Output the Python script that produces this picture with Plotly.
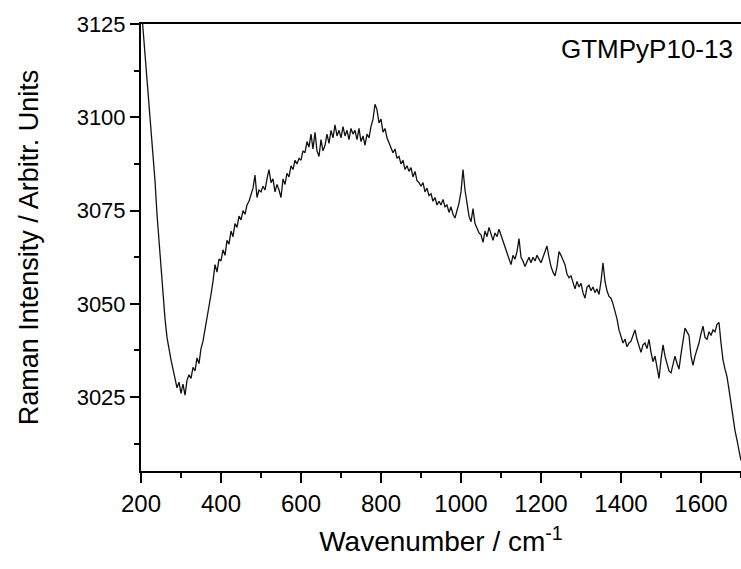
import plotly.graph_objects as go

# Raman spectrum of GTMPyP10-13, sampled every 5 cm-1 from 200 to 1700 cm-1
wn_start = 200
wn_step = 5
intensity = [
    3130.5, 3124, 3116.5, 3110, 3104, 3097, 3090, 3083, 3074, 3066.5,      # 200-245
    3060, 3052, 3046, 3041, 3037.5, 3035, 3032.5, 3030, 3027.5, 3029,      # 250-295
    3026, 3028.5, 3025.5, 3029.5, 3031, 3030, 3033, 3032, 3035.5, 3034,    # 300-345
    3038, 3040, 3043, 3045.5, 3049, 3052.5, 3056, 3060.5, 3058.5, 3062,    # 350-395
    3061.5, 3064.5, 3063, 3067, 3066, 3069.5, 3068, 3071.5, 3070.5, 3073.5,  # 400-445
    3072.5, 3075, 3074, 3076.5, 3077.5, 3079, 3081, 3084.5, 3078.5, 3080.5,  # 450-495
    3080, 3081.5, 3080.5, 3083.5, 3086, 3082.5, 3083.5, 3080, 3082, 3080.5,  # 500-545
    3078.5, 3083.5, 3082, 3085, 3084, 3087, 3086, 3088.5, 3087.5, 3089,    # 550-595
    3088.5, 3091, 3090.5, 3093.5, 3092, 3095.5, 3091.5, 3096, 3091, 3089.5,  # 600-645
    3094, 3091, 3092.5, 3095.5, 3093, 3096.5, 3094.5, 3098, 3095, 3096.5,  # 650-695
    3094.5, 3097.5, 3095, 3096.5, 3094, 3097, 3095.5, 3096.5, 3094, 3097,  # 700-745
    3093.5, 3095, 3092.5, 3095.5, 3094.5, 3097.5, 3099.5, 3103.5, 3102, 3098.5,  # 750-795
    3099.5, 3096, 3097, 3094.5, 3093, 3092, 3090.5, 3091.5, 3089, 3089.5,  # 800-845
    3087.5, 3088.5, 3086, 3087, 3085.5, 3086.5, 3084, 3085.5, 3083, 3082.5,  # 850-895
    3081.5, 3082.5, 3080, 3081, 3079, 3079.5, 3077.5, 3078.5, 3076.5, 3077.5,  # 900-945
    3076.5, 3078, 3076, 3076.5, 3074.5, 3076, 3074, 3073, 3075, 3077,      # 950-995
    3080, 3086, 3080.5, 3076.5, 3073.5, 3072, 3075.5, 3071.5, 3070, 3069,  # 1000-1045
    3068.5, 3066.5, 3069.5, 3068, 3070.5, 3068.5, 3067, 3069, 3068, 3070,  # 1050-1095
    3068.5, 3066.5, 3065, 3063.5, 3062.5, 3060.5, 3063, 3062, 3064, 3067.5,  # 1100-1145
    3062.5, 3061.5, 3060, 3061.5, 3062.5, 3061, 3062.5, 3061.5, 3063, 3062,  # 1150-1195
    3061, 3062.5, 3064, 3065.5, 3062.5, 3060, 3058.5, 3057.5, 3060, 3064,  # 1200-1245
    3063, 3061.5, 3060.5, 3058, 3057, 3057.5, 3055.5, 3054, 3056, 3054.5,  # 1250-1295
    3055.5, 3053, 3051.5, 3054.5, 3055, 3053.5, 3054.5, 3053, 3054, 3052.5,  # 1300-1345
    3056, 3061, 3056, 3053.5, 3052, 3051.5, 3050, 3048, 3046, 3043,        # 1350-1395
    3041.5, 3039.5, 3040.5, 3038.5, 3039.5, 3040, 3041.5, 3043, 3040.5, 3038.5,  # 1400-1445
    3037, 3039, 3039.5, 3038, 3040.5, 3037, 3034.5, 3036, 3032.5, 3030,    # 1450-1495
    3035, 3039, 3036, 3034, 3032, 3031.5, 3034, 3036, 3034, 3032.5,        # 1500-1545
    3036.5, 3040, 3043.5, 3042.5, 3041.5, 3036, 3033.5, 3036, 3037.5, 3039.5,  # 1550-1595
    3042, 3044, 3041, 3040.5, 3042.5, 3041.5, 3043, 3042.5, 3044.5, 3045,  # 1600-1645
    3039.5, 3035, 3032.5, 3030.5, 3027, 3023, 3019, 3016, 3013.5, 3011,    # 1650-1695
    3008,                                                                  # 1700
]
wavenumber = [wn_start + wn_step * i for i in range(len(intensity))]

x_ticks = [200, 400, 600, 800, 1000, 1200, 1400, 1600]
y_ticks = [3025, 3050, 3075, 3100, 3125]
sample_label = "GTMPyP10-13"

FONT = "Liberation Sans, Arial, sans-serif"

fig = go.Figure(
    go.Scatter(
        x=wavenumber,
        y=intensity,
        mode="lines",
        line=dict(color="#111111", width=1.3),
        showlegend=False,
    )
)

fig.update_layout(
    width=741,
    height=569,
    margin=dict(l=141, r=0, t=24, b=98),
    paper_bgcolor="white",
    plot_bgcolor="white",
    font=dict(family=FONT, color="black"),
    annotations=[
        dict(
            text=sample_label,
            xref="paper", yref="paper",
            x=0.99, y=0.945,
            xanchor="right", yanchor="middle",
            showarrow=False,
            font=dict(family=FONT, size=26, color="black"),
        )
    ],
)

fig.update_xaxes(
    range=[200, 1700],
    tickvals=x_ticks,
    ticks="outside",
    ticklen=10,
    tickwidth=1.5,
    tickcolor="black",
    showline=True,
    linecolor="black",
    linewidth=2,
    mirror=True,
    showgrid=False,
    zeroline=False,
    tickfont=dict(family=FONT, size=24),
    minor=dict(dtick=100, ticks="outside", ticklen=5, tickwidth=1.5, tickcolor="black", showgrid=False),
    title=dict(text="Wavenumber / cm<sup>-1</sup>", font=dict(family=FONT, size=28), standoff=16),
)

fig.update_yaxes(
    range=[3005.2, 3125],
    tickvals=y_ticks,
    ticks="outside",
    ticklen=9,
    tickwidth=1.5,
    tickcolor="black",
    showline=True,
    linecolor="black",
    linewidth=2,
    mirror=False,
    showgrid=False,
    zeroline=False,
    tickfont=dict(family=FONT, size=22),
    minor=dict(dtick=12.5, ticks="outside", ticklen=5, tickwidth=1.5, tickcolor="black", showgrid=False),
    title=dict(text="Raman Intensity / Arbitr. Units", font=dict(family=FONT, size=27), standoff=30),
)

fig.write_html("out.html")
